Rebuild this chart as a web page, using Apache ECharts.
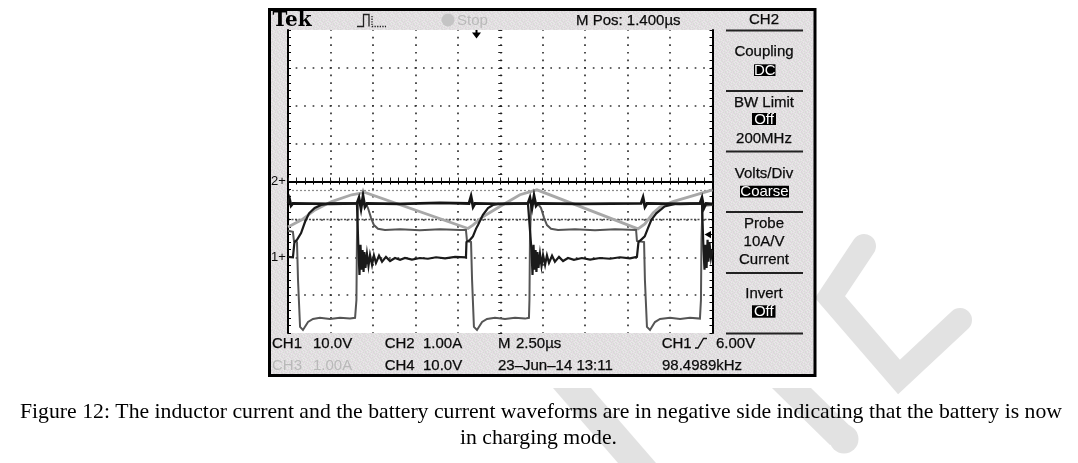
<!DOCTYPE html>
<html><head><meta charset="utf-8">
<script src="https://cdn.jsdelivr.net/npm/echarts@6/dist/echarts.min.js"></script>
<style>html,body{margin:0;padding:0;background:#fff;}#c{width:1078px;height:463px;}</style>
</head><body><div id="c"></div>
<script>
// ---- time axis: microseconds (2.50 us/div, 10 div); value axis: divisions (-4..4)
const timeRange = [0, 25];
const divRange = [-4, 4];

// inductor current (light grey triangle)
const iL = [[0,-1.20],[0.81,-1.01],[1.59,-0.75],[2.57,-0.53],[3.75,-0.35],[4.53,-0.29],[10.60,-1.24],[10.89,-1.15],[11.48,-0.93],[12.48,-0.66],[13.66,-0.35],[14.66,-0.22],[20.61,-1.25],[21.02,-1.12],[21.50,-0.83],[21.91,-0.67],[22.67,-0.53],[23.67,-0.40],[25,-0.22]];

// switch-node voltage (dark grey square wave)
const vSw = [[0,-1.30],[0.29,-1.33],[0.35,-1.57],[0.53,-1.60],[0.59,-2.60],[0.71,-3.84],[0.88,-3.92],[1.18,-3.71],[1.47,-3.63],[1.88,-3.60],[2.47,-3.63],[3.06,-3.60],[3.65,-3.62],[3.95,-3.60],[4.03,-3.13],[4.06,-1.54],[4.12,-0.59],[4.59,-0.59],[4.71,-0.70],[4.89,-0.96],[5.06,-1.15],[5.30,-1.25],[5.71,-1.28],[6.60,-1.26],[7.77,-1.29],[8.95,-1.26],[10.13,-1.28],[10.48,-1.28],[10.54,-1.57],[10.78,-1.60],[10.84,-2.60],[10.95,-3.84],[11.13,-3.92],[11.43,-3.71],[11.72,-3.63],[12.19,-3.60],[12.78,-3.63],[13.37,-3.60],[13.96,-3.62],[14.19,-3.60],[14.22,-3.13],[14.25,-1.54],[14.31,-0.59],[14.72,-0.59],[14.90,-0.70],[15.08,-0.96],[15.25,-1.15],[15.49,-1.25],[15.90,-1.28],[16.90,-1.26],[18.08,-1.29],[19.26,-1.26],[20.50,-1.28],[20.55,-1.57],[20.97,-1.60],[21.02,-2.60],[21.14,-3.84],[21.32,-3.92],[21.61,-3.71],[21.91,-3.63],[22.50,-3.60],[23.09,-3.63],[23.67,-3.60],[24.26,-3.62],[24.32,-3.13],[24.35,-1.54],[24.41,-0.64],[25,-0.62]];

// battery voltage (black, flat with switching spikes)
const vBat = [[0,-0.58],[0.09,-0.46],[0.18,-0.64],[0.29,-0.58],[2.47,-0.59],[4.06,-0.58],[4.18,-0.43],[4.30,-0.72],[4.42,-0.38],[4.53,-0.67],[4.65,-0.58],[6.60,-0.59],[8.95,-0.565],[10.66,-0.58],[10.78,-0.39],[10.90,-0.67],[11.01,-0.58],[12.48,-0.59],[14.13,-0.58],[14.25,-0.43],[14.37,-0.70],[14.49,-0.38],[14.61,-0.64],[14.72,-0.58],[17.20,-0.59],[20.79,-0.58],[20.91,-0.42],[21.02,-0.67],[21.14,-0.58],[23.09,-0.59],[24.26,-0.58],[24.38,-0.43],[24.50,-0.70],[24.62,-0.58],[25,-0.59]];

// battery current (black, with ringing)
const iBat = [[0,-1.99],[0.29,-2.00],[0.38,-1.60],[0.53,-1.54],[0.77,-1.36],[1.00,-1.07],[1.24,-0.84],[1.57,-0.70],[1.94,-0.62],[2.47,-0.58],[4.06,-0.58],
[4.15,-1.81],[4.21,-2.47],[4.27,-1.67],[4.33,-2.33],[4.39,-1.81],[4.45,-2.39],[4.50,-1.86],[4.56,-2.28],[4.65,-1.91],[4.74,-2.23],[4.83,-1.94],[4.95,-2.20],[5.06,-1.95],[5.18,-2.15],[5.36,-1.96],[5.54,-2.12],[5.77,-1.99],[6.01,-2.10],[6.30,-2.02],[6.60,-2.07],[6.89,-2.02],[7.30,-2.06],[7.77,-2.02],[8.24,-2.04],[8.72,-2.00],[9.25,-2.03],[9.84,-1.99],[10.48,-2.00],
[10.51,-1.60],[10.72,-1.54],[10.89,-1.45],[11.07,-1.25],[11.19,-1.15],[11.48,-0.88],[11.78,-0.70],[12.07,-0.62],[12.37,-0.59],[14.13,-0.58],
[14.34,-1.81],[14.40,-2.47],[14.46,-1.67],[14.52,-2.33],[14.58,-1.81],[14.63,-2.39],[14.69,-1.86],[14.75,-2.28],[14.84,-1.91],[14.93,-2.23],[15.02,-1.94],[15.14,-2.20],[15.25,-1.95],[15.37,-2.15],[15.55,-1.96],[15.72,-2.12],[15.96,-1.99],[16.20,-2.10],[16.49,-2.02],[16.84,-2.07],[17.31,-2.02],[17.79,-2.06],[18.37,-2.02],[18.96,-2.04],[19.55,-2.00],[20.14,-2.03],[20.55,-1.99],
[20.64,-1.60],[20.79,-1.54],[21.01,-1.45],[21.20,-1.23],[21.40,-1.01],[21.69,-0.84],[22.18,-0.66],[22.79,-0.59],[24.38,-0.58],
[24.47,-1.81],[24.53,-2.33],[24.59,-1.67],[24.65,-2.28],[24.71,-1.54],[24.76,-2.12],[24.82,-1.60],[24.91,-2.02],[25,-1.81]];

// cursor levels (divisions)
const cursorLevels = [-0.24, -1.0];

// texts
const headerTexts = {brand:'Tek', state:'Stop', mpos:'M Pos: 1.400\u00b5s'};
const menuTitle = 'CH2';
const statusRow1 = ['CH1','10.0V','CH2','1.00A','M','2.50\u00b5s','CH1','6.00V'];
const statusRow2 = ['CH3','1.00A','CH4','10.0V','23\u2013Jun\u201314 13:11','98.4989kHz'];
const caption = ['Figure 12: The inductor current and the battery current waveforms are in negative side indicating that the battery is now','in charging mode.'];

// ---------------- layout / style ----------------
const G = {left:288, top:30, width:424.5, height:303};
const FONT = '15px "Liberation Sans", Arial, sans-serif';
const INK = '#0a0a0a';

// fixed low-contrast 8x8 speckle tile imitating the screenshot's dithered grey
const tile = document.createElement('canvas');
tile.width = 8; tile.height = 8;
(function(){
  const t = tile.getContext('2d');
  const pal = ['#e6dde4','#dde2dc','#e8e7e8','#dbd7da'];
  const map = ['02130312','31020130','10321203','23013021','03120130','21303102','12031023','30210312'];
  for (let r = 0; r < 8; r++) for (let c = 0; c < 8; c++) { t.fillStyle = pal[+map[r][c]]; t.fillRect(c, r, 1, 1); }
})();
const BG = {image: tile, repeat: 'repeat'};

function txt(text, x, y, o) {
  o = o || {};
  const al = o.align || 'left';
  return {type:'text', x:x, y:y, z:o.z || 30, scaleX:o.sx || 1, silent:true,
    style:{text:text, x:0, y:0, font:o.font || FONT, fill:o.fill || INK,
      stroke:o.stroke || null, lineWidth:o.lw || 0,
      textAlign:al, align:al, textVerticalAlign:'middle', verticalAlign:'middle'}};
}
function rect(x,y,w,h,fill,z,stroke,lw){
  return {type:'rect', z:z||1, silent:true, shape:{x:x,y:y,width:w,height:h},
    style:{fill:fill, stroke:stroke||null, lineWidth:lw||0}};
}
function hline(x1,x2,y,color,w,z){
  return {type:'line', z:z||25, silent:true, shape:{x1:x1,y1:y,x2:x2,y2:y}, style:{stroke:color, lineWidth:w}};
}
function inv(label, x, y, w, h){
  return [rect(x,y,w,h,'#000',28), txt(label, x+w/2, y+h/2+0.5, {align:'center', fill:'#fff'})];
}
const B = {stroke:INK, lw:0.25};
const BC = {align:'center', stroke:INK, lw:0.25};

const CAP_FONT = '22px "Liberation Serif", "Times New Roman", serif';
const mctx = document.createElement('canvas').getContext('2d');
mctx.font = CAP_FONT;
const capSX = 1042 / mctx.measureText(caption[0]).width;

const WM = '#e2e2e2';
const graphics = [
  // watermark
  {type:'polyline', z:0, silent:true, shape:{points:[[864,246],[830,297],[899,377],[960,320]]},
    style:{stroke:WM, lineWidth:24, fill:null, lineCap:'round', lineJoin:'miter'}},
  {type:'polygon', z:0, silent:true, shape:{points:[[553,388],[591,388],[656,463],[618,463]]}, style:{fill:WM}},
  {type:'polygon', z:0, silent:true, shape:{points:[[772,388],[811,388],[857,433],[830,445]]}, style:{fill:WM}},
  {type:'circle', z:0, silent:true, shape:{cx:844,cy:439,r:14.5}, style:{fill:WM}},
  // scope frame
  rect(269.5, 9.5, 545.5, 366, BG, 1, '#000', 3),
  rect(G.left, G.top, G.width, G.height, '#fff', 2),
  // header
  txt(headerTexts.brand, 272.5, 20.5, {font:'bold 20px "DejaVu Serif", serif', fill:'#000'}),
  {type:'polyline', z:30, silent:true, shape:{points:[[357,26.5],[363.5,26.5],[363.5,14.5],[369,14.5],[369,26.5]]}, style:{stroke:'#222', lineWidth:1.3, fill:null}},
  {type:'polyline', z:30, silent:true, shape:{points:[[372,16],[372,26.5],[386,26.5]]}, style:{stroke:'#222', lineWidth:1.3, fill:null, lineDash:[1.3,1.3]}},
  {type:'circle', z:30, silent:true, shape:{cx:448,cy:20,r:6.5}, style:{fill:'#c4c4c4'}},
  txt(headerTexts.state, 457, 20.5, {fill:'#b9b9b9'}),
  txt(headerTexts.mpos, 576, 20.5, B),
  // trigger position marker
  {type:'polygon', z:30, silent:true, shape:{points:[[472,32.5],[481,32.5],[476.5,38.5]]}, style:{fill:'#000'}},
  rect(475.5, 30, 2, 3, '#000', 30),
  // trigger level marker
  {type:'polygon', z:30, silent:true, shape:{points:[[704.5,234.6],[711,231],[711,238.2]]}, style:{fill:'#000'}},
  // ground markers
  txt('2+', 271, 181.6, {font:'13px "Liberation Sans", sans-serif'}),
  txt('1+', 271, 257.3, {font:'13px "Liberation Sans", sans-serif'}),
  // right menu
  txt(menuTitle, 764, 19.5, BC),
  hline(726, 803, 30.5, '#222', 2),
  txt('Coupling', 764, 52, BC),
  ...inv('DC', 754, 64.3, 21.5, 11.7),
  hline(726, 803, 91, '#222', 2),
  txt('BW Limit', 764, 103, BC),
  ...inv('Off', 752, 113, 24, 12),
  txt('200MHz', 764, 138.5, BC),
  hline(726, 803, 151.5, '#222', 2),
  txt('Volts/Div', 764, 173.5, BC),
  ...inv('Coarse', 740, 185.7, 49, 11.8),
  hline(726, 803, 212, '#222', 2),
  txt('Probe', 764, 223.5, BC),
  txt('10A/V', 764, 242, BC),
  txt('Current', 764, 260, BC),
  hline(726, 803, 273, '#222', 2),
  txt('Invert', 764, 293.5, BC),
  ...inv('Off', 752, 305.3, 23.5, 12.4),
  hline(726, 803, 333.5, '#222', 2),
  // status rows
  txt(statusRow1[0], 272, 343.5, B), txt(statusRow1[1], 313, 343.5, B),
  txt(statusRow1[2], 384.7, 343.5, B), txt(statusRow1[3], 423, 343.5, B),
  txt(statusRow1[4], 498, 343.5, B), txt(statusRow1[5], 516, 343.5, B),
  txt(statusRow1[6], 661.7, 343.5, B), txt(statusRow1[7], 716, 343.5, B),
  {type:'polyline', z:30, silent:true, shape:{points:[[695,348],[698,348],[703.5,338.5],[707,338.5]]}, style:{stroke:'#111', lineWidth:1.4, fill:null}},
  txt(statusRow2[0], 272, 365.5, {fill:'#b9b9b9'}), txt(statusRow2[1], 313, 365.5, {fill:'#b9b9b9'}),
  txt(statusRow2[2], 384.7, 365.5, B), txt(statusRow2[3], 423, 365.5, B),
  txt(statusRow2[4], 498, 365.5, B), txt(statusRow2[5], 662, 365.5, B),
  // caption
  txt(caption[0], 541, 412.5, {align:'center', font:CAP_FONT, fill:'#000', sx:capSX}),
  txt(caption[1], 538.5, 438.5, {align:'center', font:CAP_FONT, fill:'#000', sx:capSX})
];

const DOT = '#333';
// hidden helper axis whose zero sits 2px left of the vertical centre line (carries the centre tick marks)
const centreShiftUs = 2 / (G.width / 25);
const xAxes = [
  {type:'value', min:timeRange[0], max:timeRange[1], interval:0.5, position:'bottom', z:5,
    axisLine:{show:true, lineStyle:{color:'#000', width:2}}, axisTick:{show:true, inside:true, length:3, lineStyle:{color:'#000', width:1}},
    axisLabel:{show:false}, splitLine:{show:false}},
  {type:'value', min:timeRange[0], max:timeRange[1], interval:0.5, position:'top', z:5,
    axisLine:{show:true, lineStyle:{color:'#000', width:2}}, axisTick:{show:true, inside:true, length:3, lineStyle:{color:'#000', width:1}},
    axisLabel:{show:false}, splitLine:{show:false}},
  {type:'value', min:timeRange[0], max:timeRange[1], interval:2.5, position:'bottom', z:4,
    axisLine:{show:false}, axisTick:{show:false}, axisLabel:{show:false},
    splitLine:{show:true, showMinLine:false, showMaxLine:false, lineStyle:{color:DOT, width:1.7, type:[1.7,5.875], dashOffset:0.85}}},
  {type:'value', min:timeRange[0], max:timeRange[1], interval:0.5, position:'bottom', offset:-(G.height/2 - 2), z:5,
    axisLine:{show:false}, axisTick:{show:true, inside:true, length:4, lineStyle:{color:'#222', width:1}},
    axisLabel:{show:false}, splitLine:{show:false}},
  {type:'value', show:false, min:-(12.5 - centreShiftUs), max:12.5 + centreShiftUs}
];
const yAxes = [
  {type:'value', min:divRange[0], max:divRange[1], interval:0.2, position:'left', z:5,
    axisLine:{show:true, onZero:false, lineStyle:{color:'#000', width:2}}, axisTick:{show:true, inside:true, length:3, lineStyle:{color:'#000', width:1}},
    axisLabel:{show:false}, splitLine:{show:false}},
  {type:'value', min:divRange[0], max:divRange[1], interval:0.2, position:'right', z:5,
    axisLine:{show:true, onZero:false, lineStyle:{color:'#000', width:2}}, axisTick:{show:true, inside:true, length:3, lineStyle:{color:'#000', width:1}},
    axisLabel:{show:false}, splitLine:{show:false}},
  {type:'value', min:divRange[0], max:divRange[1], interval:1, position:'left', z:4,
    axisLine:{show:false, onZero:false}, axisTick:{show:false}, axisLabel:{show:false},
    splitLine:{show:true, showMinLine:false, showMaxLine:false, lineStyle:{color:DOT, width:1.7, type:[1.7,6.79], dashOffset:0.85}}},
  {type:'value', min:divRange[0], max:divRange[1], interval:0.2, position:'left', z:5,
    axisLine:{show:false, onZero:true, onZeroAxisIndex:4}, axisTick:{show:true, inside:true, length:4, lineStyle:{color:'#222', width:1}},
    axisLabel:{show:false}, splitLine:{show:false}}
];

function trace(name, data, color, width, extra){
  return Object.assign({name:name, type:'line', data:data, xAxisIndex:0, yAxisIndex:0, z:6,
    showSymbol:false, symbol:'none', animation:false, silent:true, clip:true,
    lineStyle:{color:color, width:width, join:'miter'}, itemStyle:{color:color}}, extra || {});
}

const option = {
  animation:false,
  backgroundColor:'#fff',
  grid:{left:G.left, top:G.top, width:G.width, height:G.height, show:false, containLabel:false},
  xAxis:xAxes, yAxis:yAxes,
  graphic:graphics,
  series:[
    trace('iL', iL, '#a8a8a8', 2.8, {markLine:{silent:true, symbol:['none','none'], animation:false, label:{show:false},
      data:[{yAxis:cursorLevels[0], lineStyle:{color:'#8c8c8c', width:1.2, type:[2,2]}},
            {yAxis:cursorLevels[1], lineStyle:{color:'#4a4a4a', width:1.3, type:[2,1.5]}}]}}),
    trace('vSw', vSw, '#555555', 2),
    trace('vBat', vBat, '#151515', 2.8),
    trace('iBat', iBat, '#1a1a1a', 2.2)
  ]
};
const chart = echarts.init(document.getElementById('c'));
chart.setOption(option);
</script></body></html>
